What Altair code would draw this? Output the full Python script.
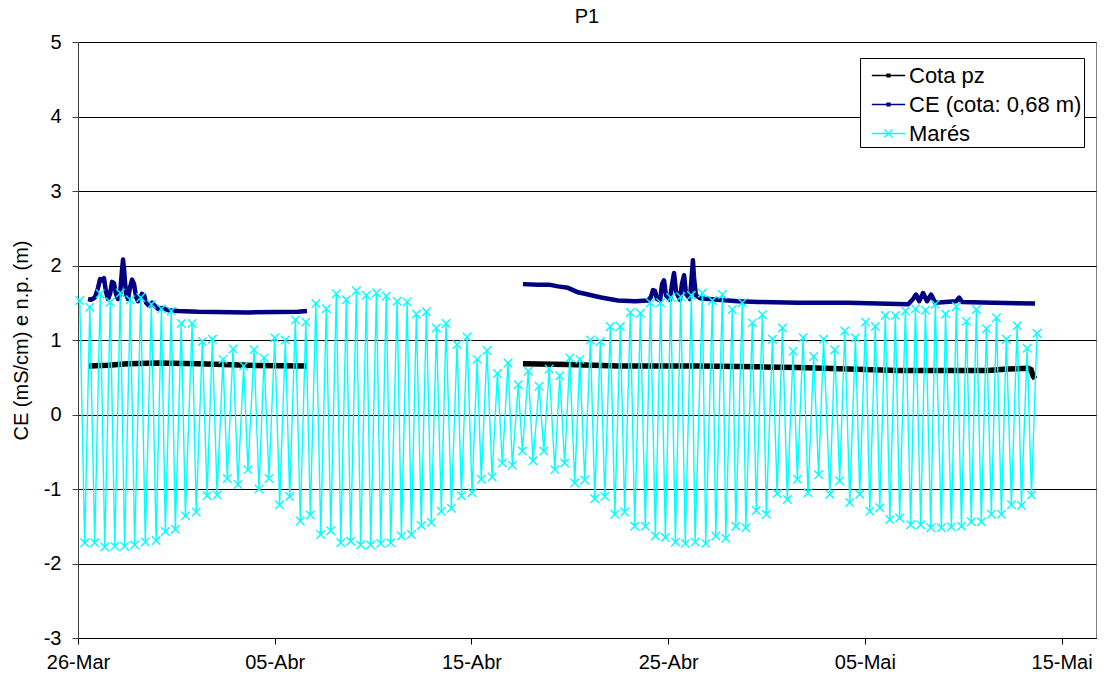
import altair as alt
import pandas as pd

FONT = "Liberation Sans"

chart_title = "P1"
y_title = "CE (mS/cm) e n.p. (m)"
series_names = ["Cota pz", "CE (cota: 0,68 m)", "Marés"]
series_colors = ["#000000", "#000080", "#00FFFF"]

# x axis: days since 26-Mar
x_tick_days = [0, 10, 20, 30, 40, 50]
x_tick_labels = ["26-Mar", "05-Abr", "15-Abr", "25-Abr", "05-Mai", "15-Mai"]
y_ticks = [-3, -2, -1, 0, 1, 2, 3, 4, 5]

# Marés (tide highs/lows): time in days since 26-Mar, level in m
tide_t = [0.09, 0.34, 0.60, 0.85, 1.13, 1.36, 1.64, 1.87, 2.15, 2.37, 2.66, 2.88,
          3.19, 3.42, 3.73, 3.97, 4.24, 4.44, 4.74, 4.95, 5.25, 5.46, 5.80, 6.01,
          6.32, 6.56, 6.83, 7.07, 7.37, 7.59, 7.88, 8.13, 8.42, 8.64, 8.95, 9.20,
          9.46, 9.71, 10.00, 10.25, 10.54, 10.76, 11.05, 11.30, 11.58, 11.81, 12.09, 12.34,
          12.62, 12.85, 13.13, 13.36, 13.64, 13.86, 14.15, 14.37, 14.66, 14.88, 15.17, 15.39,
          15.67, 15.90, 16.22, 16.44, 16.73, 16.95, 17.20, 17.45, 17.71, 17.96, 18.22, 18.47,
          18.71, 18.98, 19.27, 19.49, 19.78, 20.03, 20.29, 20.50, 20.79, 21.05, 21.32, 21.57,
          21.86, 22.08, 22.38, 22.59, 22.89, 23.13, 23.44, 23.68, 23.95, 24.24, 24.49, 24.74,
          25.00, 25.25, 25.51, 25.76, 26.05, 26.27, 26.55, 26.78, 27.06, 27.29, 27.57, 27.79,
          28.08, 28.30, 28.59, 28.84, 29.10, 29.35, 29.62, 29.86, 30.13, 30.37, 30.64, 30.87,
          31.18, 31.37, 31.74, 31.91, 32.25, 32.42, 32.76, 32.93, 33.26, 33.44, 33.77, 33.95,
          34.28, 34.48, 34.79, 34.99, 35.30, 35.54, 35.81, 36.06, 36.35, 36.57, 36.86, 37.11,
          37.40, 37.65, 37.90, 38.22, 38.47, 38.72, 38.98, 39.23, 39.52, 39.74, 40.03, 40.25,
          40.53, 40.76, 41.04, 41.27, 41.55, 41.77, 42.06, 42.33, 42.57, 42.84, 43.08, 43.35,
          43.58, 43.89, 44.10, 44.40, 44.65, 44.91, 45.16, 45.41, 45.67, 45.92, 46.18, 46.43,
          46.69, 46.94, 47.19, 47.45, 47.74, 47.96, 48.25, 48.47, 48.75]
tide_v = [1.53, -1.72, 1.44, -1.72, 1.62, -1.78, 1.51, -1.77, 1.63, -1.77, 1.54, -1.75,
          1.57, -1.71, 1.48, -1.69, 1.42, -1.57, 1.39, -1.54, 1.22, -1.36, 1.22, -1.31,
          0.98, -1.09, 1.01, -1.08, 0.74, -0.86, 0.88, -0.94, 0.65, -0.74, 0.87, -1.00,
          0.76, -0.86, 1.03, -1.21, 1.00, -1.10, 1.27, -1.43, 1.24, -1.35, 1.49, -1.61,
          1.42, -1.56, 1.62, -1.72, 1.54, -1.70, 1.66, -1.75, 1.60, -1.75, 1.63, -1.73,
          1.59, -1.72, 1.52, -1.63, 1.51, -1.61, 1.35, -1.49, 1.38, -1.45, 1.16, -1.30,
          1.22, -1.26, 0.94, -1.09, 1.04, -1.05, 0.74, -0.87, 0.86, -0.84, 0.55, -0.65,
          0.69, -0.68, 0.40, -0.49, 0.58, -0.62, 0.38, -0.49, 0.61, -0.74, 0.52, -0.65,
          0.76, -0.92, 0.74, -0.88, 1.00, -1.13, 0.98, -1.10, 1.18, -1.34, 1.18, -1.31,
          1.37, -1.50, 1.36, -1.50, 1.50, -1.63, 1.50, -1.65, 1.57, -1.71, 1.58, -1.73,
          1.60, -1.71, 1.63, -1.73, 1.53, -1.63, 1.61, -1.66, 1.41, -1.50, 1.50, -1.52,
          1.23, -1.29, 1.34, -1.34, 1.01, -1.06, 1.16, -1.14, 0.85, -0.87, 1.03, -1.05,
          0.78, -0.81, 1.01, -1.07, 0.87, -0.89, 1.12, -1.18, 1.03, -1.07, 1.24, -1.30,
          1.18, -1.25, 1.33, -1.41, 1.33, -1.39, 1.39, -1.48, 1.42, -1.48, 1.40, -1.52,
          1.48, -1.52, 1.35, -1.51, 1.45, -1.50, 1.25, -1.44, 1.41, -1.44, 1.15, -1.34,
          1.30, -1.34, 1.01, -1.21, 1.19, -1.22, 0.89, -1.08, 1.09]

# CE (cota: 0,68 m) - two recording periods
ce1_t = [0.51, 0.66, 0.86, 1.02, 1.12, 1.22, 1.32, 1.42, 1.53, 1.63, 1.73, 1.83,
         1.93, 2.03, 2.14, 2.24, 2.29, 2.34, 2.44, 2.54, 2.64, 2.75, 2.85, 2.95,
         3.05, 3.15, 3.25, 3.36, 3.46, 3.61, 3.76, 3.86, 4.07, 4.32, 4.58, 5.08,
         6.10, 8.64, 11.18, 11.64]
ce1_v = [1.55, 1.54, 1.57, 1.70, 1.82, 1.80, 1.83, 1.65, 1.55, 1.62, 1.78, 1.76,
         1.62, 1.55, 1.62, 1.95, 2.08, 1.95, 1.62, 1.55, 1.70, 1.81, 1.75, 1.58,
         1.52, 1.56, 1.62, 1.60, 1.50, 1.46, 1.50, 1.47, 1.42, 1.43, 1.40, 1.39,
         1.38, 1.37, 1.38, 1.39]
ce2_t = [22.62, 23.39, 24.00, 24.40, 24.91, 25.42, 25.93, 26.59, 27.45, 28.32, 28.98,
         29.13, 29.23, 29.33, 29.43, 29.59, 29.69, 29.79, 29.89, 30.09, 30.20, 30.30,
         30.40, 30.60, 30.70, 30.81, 30.91, 31.11, 31.21, 31.26, 31.31, 31.41, 31.62,
         32.54, 33.55, 34.57, 36.60, 39.15, 40.67, 42.20, 42.45, 42.60, 42.76, 42.96,
         43.16, 43.37, 43.57, 44.64, 44.79, 44.94, 46.52, 48.65]
ce2_v = [1.75, 1.74, 1.74, 1.72, 1.70, 1.64, 1.61, 1.57, 1.53, 1.52, 1.53,
         1.58, 1.67, 1.66, 1.55, 1.53, 1.75, 1.80, 1.60, 1.54, 1.75, 1.90,
         1.65, 1.54, 1.75, 1.87, 1.62, 1.55, 1.90, 2.07, 1.85, 1.60, 1.56,
         1.54, 1.52, 1.51, 1.50, 1.50, 1.49, 1.48, 1.55, 1.61, 1.52, 1.63,
         1.52, 1.61, 1.50, 1.52, 1.57, 1.51, 1.50, 1.49]

# Cota pz
pz1_t = [0.56, 1.53, 2.54, 4.07, 6.10, 8.64, 11.64]
pz1_v = [0.65, 0.66, 0.68, 0.69, 0.68, 0.66, 0.65]
pz2_t = [22.62, 24.91, 27.45, 31.52, 34.57, 36.60, 39.15, 41.69, 46.26, 47.28,
         48.30, 48.45, 48.55, 48.65]
pz2_v = [0.68, 0.67, 0.65, 0.65, 0.64, 0.63, 0.61, 0.59, 0.59, 0.61,
         0.62, 0.60, 0.52, 0.48]

tide_df = pd.DataFrame({"t": tide_t, "v": tide_v})
ce_df = pd.DataFrame({
    "t": ce1_t + ce2_t, "v": ce1_v + ce2_v,
    "seg": ["a"] * len(ce1_t) + ["b"] * len(ce2_t)})
pz_df = pd.DataFrame({
    "t": pz1_t + pz2_t, "v": pz1_v + pz2_v,
    "seg": ["a"] * len(pz1_t) + ["b"] * len(pz2_t)})
legend_df = pd.DataFrame({"series": series_names,
                          "t": [None] * 3, "v": [None] * 3})

label_list = "[" + ",".join("'%s'" % s for s in x_tick_labels) + "]"
X = alt.X("t:Q",
          scale=alt.Scale(domain=[0, 51.75], nice=False, zero=False),
          axis=alt.Axis(values=x_tick_days, title=None, grid=False,
                        labelExpr=label_list + "[round(datum.value/10)]",
                        labelFlush=False, labelOverlap=False,
                        tickSize=6, labelPadding=8, domainColor="#000000",
                        tickColor="#000000"))
Y = alt.Y("v:Q",
          scale=alt.Scale(domain=[-3, 5], nice=False, zero=False),
          axis=alt.Axis(values=y_ticks, title=y_title, grid=True,
                        gridColor="#000000", gridWidth=1,
                        labelExpr="'' + datum.value",
                        tickSize=6, labelPadding=11, titlePadding=12,
                        domainColor="#404040", tickColor="#404040"))

X_PATH = "M-1,-1L1,1M-1,1L1,-1"
LEG_DOT = "M-1.15,0L1.15,0M-0.1,-0.1L0.1,-0.1L0.1,0.1L-0.1,0.1Z"
LEG_X = "M-1.15,0L1.15,0M-0.28,-0.28L0.28,0.28M-0.28,0.28L0.28,-0.28"

pz_line = alt.Chart(pz_df).mark_line(color=series_colors[0], strokeWidth=5.5).encode(
    x=X, y=Y, detail="seg:N")
ce_line = alt.Chart(ce_df).mark_line(color=series_colors[1], strokeWidth=4.5,
                                     strokeJoin="round").encode(
    x=X, y=Y, detail="seg:N")
tide_line = alt.Chart(tide_df).mark_line(color=series_colors[2], strokeWidth=1.4,
                                         strokeJoin="round").encode(x=X, y=Y)
tide_pts = alt.Chart(tide_df).mark_point(shape=X_PATH, size=72, filled=False,
                                         color=series_colors[2], strokeWidth=1.4,
                                         opacity=1).encode(x=X, y=Y)

leg = alt.Legend(title=None, orient="none", legendX=782, legendY=16,
                 strokeColor="#000000", fillColor="#ffffff", padding=2,
                 symbolOffset=11, symbolSize=841, symbolStrokeWidth=1.3,
                 labelFont=FONT, labelFontSize=22, labelColor="#000000",
                 labelLimit=300, labelOffset=5, rowPadding=2)
legend_layer = alt.Chart(legend_df).mark_point(filled=False, opacity=1).encode(
    x=X, y=Y,
    color=alt.Color("series:N", scale=alt.Scale(domain=series_names, range=series_colors),
                    legend=leg),
    shape=alt.Shape("series:N", scale=alt.Scale(domain=series_names,
                                                range=[LEG_DOT, LEG_DOT, LEG_X]),
                    legend=leg))

chart = alt.layer(pz_line, ce_line, tide_line, tide_pts, legend_layer).properties(
    width=1018, height=596,
    title=alt.TitleParams(chart_title, font=FONT, fontSize=20, fontWeight="normal",
                          color="#000000", offset=5),
    padding={"left": 11, "top": 7, "right": 6, "bottom": 5},
    background="#ffffff",
).configure_view(stroke="#808080", strokeWidth=1).configure_axis(
    labelFont=FONT, labelFontSize=20, labelColor="#000000",
    titleFont=FONT, titleFontSize=20, titleFontWeight="normal", titleColor="#000000",
)

chart.save("out.html", embed_options={"renderer": "svg", "actions": False})
